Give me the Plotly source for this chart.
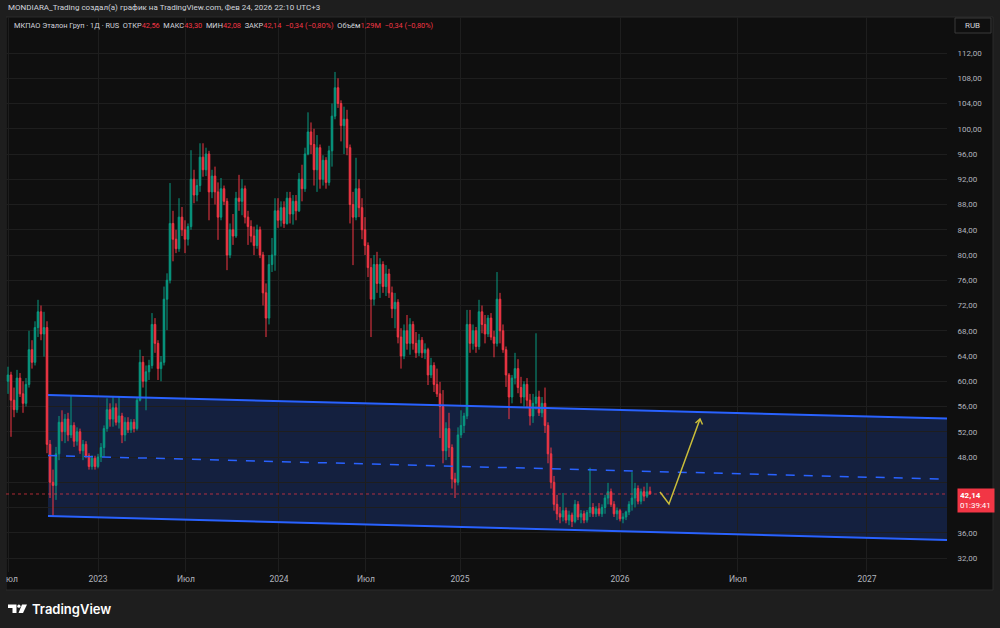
import plotly.graph_objects as go

# ---------------- data (bar-by-bar OHLC) ----------------
opens = [60, 61, 57, 55.5, 60.5, 58, 56.5, 59.5, 65, 63,
         68.5, 71, 67.5, 68.5, 50, 44, 43.5, 48.5, 53.5, 52,
         54, 51.5, 53, 50.5, 52, 49, 50, 48.2, 46.5, 47.8,
         46.5, 48, 49.5, 52.5, 55.5, 54, 55.8, 53.5, 54.5, 51.5,
         53.5, 52.3, 53.5, 52.5, 57, 63, 60, 61.5, 62.5, 69,
         66, 62, 63, 73, 76, 85, 82.5, 81, 86, 84,
         82.5, 84.5, 92, 89.5, 91, 95.5, 93.5, 96, 90, 92.5,
         90, 86, 90.5, 88.5, 80, 84, 83, 89, 88.5, 90.5,
         86, 84.5, 83, 81.5, 84, 80, 74, 70, 78.5, 80,
         87, 85.5, 87.5, 85, 89, 86.5, 88.5, 87, 92, 90.5,
         96, 99.5, 97.5, 93.5, 97, 92, 95, 91.5, 96.5, 102,
         106.5, 104, 100.5, 101.5, 97, 88, 86, 90.5, 87.5, 84,
         81.5, 78, 73, 78.5, 75.5, 78.5, 75, 77, 74, 71.5,
         72.5, 67, 64, 68, 66, 69, 66, 64.5, 66.5, 64.5,
         65, 61, 62.5, 59.5, 58, 56, 49, 52.5, 49.5, 44.5,
         44, 51.5, 53, 54.5, 69, 66, 68, 65.5, 71, 69,
         67.5, 70, 67, 66, 73, 68, 65, 61, 57.5, 60.5,
         62, 59, 57.5, 59.5, 57, 54.5, 56.5, 57.5, 55, 56.5,
         53, 48.5, 44, 40.5, 39, 38.5, 39.5, 38, 38.8, 37.8,
         40.5, 38.5, 39, 38, 39.2, 40, 39, 39.8, 39, 40,
         41.5, 42.5, 40.5, 39, 39.5, 38.2, 38.5, 39.3, 40.5, 41.5,
         43, 41, 42.5, 41.8, 42.56]
highs = [62.3, 61.5, 59, 61.8, 61.3, 60, 60.5, 68, 66.5, 69.5,
         72.9, 72, 71, 69.5, 50.7, 46, 49.6, 54.5, 55.4, 54.8,
         55, 57.8, 53.5, 52.7, 52.5, 50.7, 50.5, 48.6, 48.3, 48.2,
         48.5, 50.2, 53, 57.3, 56.5, 57.5, 56.5, 57.5, 55, 54.3,
         54.3, 54, 54, 57.5, 65, 64, 62.5, 63.4, 70.8, 70,
         66.5, 64, 75, 77.1, 91.4, 87, 84, 89, 87.6, 85.5,
         85, 96.6, 93.5, 92, 97.7, 97.7, 97, 96.5, 93.5, 94,
         91.5, 92.2, 91, 89, 85, 86.5, 90, 92.7, 92, 91,
         87, 85.5, 84.5, 84.8, 84.5, 80.5, 75.5, 80, 82.7, 89,
         89, 88.5, 88.5, 90, 90, 89.5, 89.5, 93, 94.3, 97,
         102.6, 101, 100, 99, 97.5, 95.8, 95.5, 97.3, 104, 109,
         108, 104.5, 103.5, 103, 97.5, 90, 95.4, 92, 89, 86,
         82, 79.5, 80, 80.5, 79.5, 79, 78.4, 77.8, 75, 74,
         73, 68.4, 69, 70.5, 70, 69.5, 67.8, 67.5, 67, 66,
         65.3, 63.7, 63, 62, 59.9, 58.6, 53.5, 55, 50, 45.5,
         52.7, 55.4, 55, 71.3, 71.3, 69, 68.6, 72.9, 72, 70.5,
         70.5, 70.8, 68, 77.3, 74, 69, 65.5, 61.3, 61, 64.5,
         63.5, 60.7, 60, 60.5, 58, 58, 67.6, 58.5, 57.5, 59,
         53.5, 49.5, 45, 42, 40.1, 42.3, 40, 39.5, 39.2, 41.2,
         41, 39.6, 39.5, 39.6, 46.3, 40.7, 40.2, 40.7, 40.5, 42,
         43.9, 43, 41, 40, 39.8, 39.1, 39.5, 41, 45.6, 43.9,
         43.5, 43, 43.3, 43.9, 43.30]
lows = [58, 51.2, 54.3, 55, 57.5, 55, 56, 59, 62, 62.5,
        67, 66.5, 63.9, 48.6, 41.5, 38.7, 41.2, 47.5, 50.5, 50.2,
        50.5, 51, 49.6, 49.8, 48.5, 47.5, 47.8, 46, 46, 46,
        46.2, 47.2, 48, 52, 52.8, 52.8, 53, 52.5, 50.2, 50.5,
        51.8, 51.8, 51.9, 52.2, 56.8, 59, 55.4, 60.2, 62, 64.5,
        60.2, 60, 62.5, 68.1, 75.5, 79, 80.3, 80.5, 83, 80.3,
        81.5, 84, 88.2, 88.5, 90, 92.4, 92.5, 85.5, 89, 88,
        82.4, 85.5, 87.9, 77.6, 79.5, 81.6, 82.7, 87, 86.3, 85,
        81.6, 82, 80, 81, 79.5, 72, 67, 69, 77.3, 77.5,
        84.3, 84.5, 84.3, 84.8, 85, 84.8, 85.5, 86.8, 88.5, 90,
        95.8, 96, 91, 90, 90.5, 91, 90.5, 91, 94, 101.5,
        103.3, 98, 96, 95.8, 85, 78.4, 85.5, 86, 82.5, 80,
        76.5, 67, 72, 74, 73.2, 74, 73.5, 73.2, 70, 68.4,
        66, 62, 63.5, 65, 64.2, 65, 63.7, 64, 63.7, 63.5,
        59.4, 60.5, 58.3, 57.5, 51, 47, 47.5, 48, 43, 41.5,
        43.5, 51, 51.8, 54, 64.5, 65, 64.5, 65, 67.6, 66,
        67, 66.5, 63.8, 65.5, 66, 64.5, 59.1, 54, 56.5, 59.5,
        58.1, 56.5, 56, 55.9, 53, 53.4, 55.5, 54.5, 54.3, 51.8,
        47, 43, 39.5, 38, 37.5, 37.8, 37.5, 37.2, 36.9, 37.5,
        38, 37.5, 37.5, 37.6, 38.5, 38.5, 38.5, 38.6, 38.5, 39,
        40.5, 40.1, 38.5, 38, 37.8, 37.5, 38, 38.8, 39.5, 40,
        40.5, 40.5, 41, 41.5, 42.08]
closes = [61, 57, 55.5, 60.5, 58, 56.5, 59.5, 65, 63, 68.5,
          71, 67.5, 68.5, 50, 44, 43.5, 48.5, 53.5, 52, 54,
          51.5, 53, 50.5, 52, 49, 50, 48.2, 46.5, 47.8, 46.5,
          48, 49.5, 52.5, 55.5, 54, 55.8, 53.5, 54.5, 51.5, 53.5,
          52.3, 53.5, 52.5, 57, 63, 60, 61.5, 62.5, 69, 66,
          62, 63, 73, 76, 85, 82.5, 81, 86, 84, 82.5,
          84.5, 92, 89.5, 91, 95.5, 93.5, 96, 90, 92.5, 90,
          86, 90.5, 88.5, 80, 84, 83, 89, 88.5, 90.5, 86,
          84.5, 83, 81.5, 84, 80, 74, 70, 78.5, 80, 87,
          85.5, 87.5, 85, 89, 86.5, 88.5, 87, 92, 90.5, 96,
          99.5, 97.5, 93.5, 97, 92, 95, 91.5, 96.5, 102, 106.5,
          104, 100.5, 101.5, 97, 88, 86, 90.5, 87.5, 84, 81.5,
          78, 73, 78.5, 75.5, 78.5, 75, 77, 74, 71.5, 72.5,
          67, 64, 68, 66, 69, 66, 64.5, 66.5, 64.5, 65,
          61, 62.5, 59.5, 58, 56, 49, 52.5, 49.5, 44.5, 44,
          51.5, 53, 54.5, 69, 66, 68, 65.5, 71, 69, 67.5,
          70, 67, 66, 73, 68, 65, 61, 57.5, 60.5, 62,
          59, 57.5, 59.5, 57, 54.5, 56.5, 57.5, 55, 56.5, 53,
          48.5, 44, 40.5, 39, 38.5, 39.5, 38, 38.8, 37.8, 40.5,
          38.5, 39, 38, 39.2, 40, 39, 39.8, 39, 40, 41.5,
          42.5, 40.5, 39, 39.5, 38.2, 38.5, 39.3, 40.5, 41.5, 43,
          41, 42.5, 41.8, 42.48, 42.14]
last_volume_m = 1.29

x_tick_labels = ["Июл", "2023", "Июл", "2024", "Июл", "2025", "2026", "Июл", "2027"]
price_ticks = list(range(32, 113, 4))

ticker_name = "МКПАО Эталон Груп · 1Д · RUS"
header_text = "MONDIARA_Trading создал(а) график на TradingView.com, Фев 24, 2026 22:10 UTC+3"
countdown = "01:39:41"

# ---------------- layout geometry ----------------
W, H = 1000, 628
ML, MR, MT, MB = 6, 53, 17, 56
PX0, PX1 = ML, W - MR
PY0, PY1 = MT, H - MB
BAR_PX, FIRST_PX = 3.0, 8.0
PX_PER_UNIT = 6.3125
Y_TOP = 112 + (53 - PY0) / PX_PER_UNIT
Y_BOT = 112 - (PY1 - 53) / PX_PER_UNIT
X_RANGE = [(PX0 - FIRST_PX) / BAR_PX, (PX1 - FIRST_PX) / BAR_PX]
tick_bar_pos = [0.3, 30, 59.33, 90.33, 119.33, 150.67, 204, 243.33, 286.33]

def px2x(px):
    return (px - FIRST_PX) / BAR_PX

def py2y(py):
    return Y_TOP - (py - PY0) / PX_PER_UNIT

def pxp(px):
    return (px - PX0) / (PX1 - PX0)

def pyp(py):
    return (PY1 - py) / (PY1 - PY0)

def ru(v):
    return f"{v:.2f}".replace(".", ",")

UP, DN = "#089981", "#f23645"
BLUE = "#2962ff"
GRID = "#1e1e1e"
AXTXT = "#b2b5be"
FONT = "Roboto"

# the price tag covers the 40,00 label in the original
price_tick_text = ["" if abs(v - closes[-1]) < 3 else ru(v) for v in price_ticks]

bars = list(range(len(closes)))
fig = go.Figure()
fig.add_trace(go.Candlestick(
    x=bars, open=opens, high=highs, low=lows, close=closes,
    increasing=dict(line=dict(color=UP, width=1), fillcolor=UP),
    decreasing=dict(line=dict(color=DN, width=1), fillcolor=DN),
    whiskerwidth=0, hoverinfo="skip", showlegend=False,
))

shapes = []
# chart panel
shapes.append(dict(type="rect", xref="paper", yref="paper", layer="below",
                   x0=pxp(6), x1=pxp(993), y0=pyp(590), y1=pyp(17),
                   fillcolor="#0f0f0f", line=dict(color="#2a2a2a", width=1)))
# parallel channel
cx0, cx1 = px2x(48), X_RANGE[1]
up0, up1 = py2y(395), py2y(418.5)
lo0, lo1 = py2y(516), py2y(540)
shapes.append(dict(type="path", xref="x", yref="y", layer="below",
                   path=f"M {cx0},{up0} L {cx1},{up1} L {cx1},{lo1} L {cx0},{lo0} Z",
                   fillcolor="rgba(41,98,255,0.2)", line=dict(width=0)))
shapes.append(dict(type="line", xref="x", yref="y", x0=cx0, y0=up0, x1=cx1, y1=up1,
                   line=dict(color=BLUE, width=2)))
shapes.append(dict(type="line", xref="x", yref="y", x0=cx0, y0=lo0, x1=cx1, y1=lo1,
                   line=dict(color=BLUE, width=2)))
shapes.append(dict(type="line", xref="x", yref="y", x0=cx0, y0=(up0 + lo0) / 2,
                   x1=cx1, y1=(up1 + lo1) / 2, line=dict(color=BLUE, width=1.5, dash="dash")))
# last price line
shapes.append(dict(type="line", xref="paper", yref="y", x0=0, x1=1, y0=closes[-1], y1=closes[-1],
                   line=dict(color="rgba(242,54,69,0.7)", width=1, dash="dot")))
# yellow arrow
ARW = "#c9bd3a"
a = [(660, 492), (669, 504), (700, 419)]
path = "M " + " L ".join(f"{px2x(p[0])},{py2y(p[1])}" for p in a)
shapes.append(dict(type="path", xref="x", yref="y", path=path, line=dict(color=ARW, width=1.5)))
head = [(695.5, 423), (700, 419), (702.5, 424.5)]
path = "M " + " L ".join(f"{px2x(p[0])},{py2y(p[1])}" for p in head)
shapes.append(dict(type="path", xref="x", yref="y", path=path, line=dict(color=ARW, width=1.5)))
# clip strip at far left
shapes.append(dict(type="rect", xref="paper", yref="paper", layer="above",
                   x0=pxp(0), x1=pxp(6), y0=pyp(628), y1=pyp(0),
                   fillcolor="#1e1e1e", line=dict(width=0)))
# RUB box
shapes.append(dict(type="rect", xref="paper", yref="paper",
                   x0=pxp(955), x1=pxp(991), y0=pyp(33), y1=pyp(18),
                   fillcolor="#0f0f0f", line=dict(color="#3a3a3a", width=1)))
# TradingView logo glyph
def ppath(pts):
    return "M " + " L ".join(f"{pxp(x)},{pyp(y)}" for x, y in pts) + " Z"
shapes.append(dict(type="path", xref="paper", yref="paper",
                   path=ppath([(8, 604.5), (16.5, 604.5), (16.5, 613), (12.5, 613), (12.5, 608), (8, 608)]),
                   fillcolor="white", line=dict(width=0)))
shapes.append(dict(type="circle", xref="paper", yref="paper",
                   x0=pxp(17.3), x1=pxp(20.5), y0=pyp(607.8), y1=pyp(604.6),
                   fillcolor="white", line=dict(width=0)))
shapes.append(dict(type="path", xref="paper", yref="paper",
                   path=ppath([(22, 604.5), (27, 604.5), (23, 613), (18.5, 613)]),
                   fillcolor="white", line=dict(width=0)))

ann = []
ann.append(dict(xref="paper", yref="paper", x=pxp(6), y=pyp(8), xanchor="left", yanchor="middle",
                text=header_text, showarrow=False, font=dict(family=FONT, size=8, color="#d1d4dc")))
chg = closes[-1] - closes[-2]
pct = chg / closes[-2] * 100
red = lambda s: f"<span style='color:{DN}'>{s}</span>"
chg_s = f"{ru(chg).replace('-', '−')} ({ru(pct).replace('-', '−')}%)"
legend = (f"{ticker_name}  ОТКР{red(ru(opens[-1]))}  МАКС{red(ru(highs[-1]))}  "
          f"МИН{red(ru(lows[-1]))}  ЗАКР{red(ru(closes[-1]))}  {red(chg_s)}  "
          f"Объём{red(ru(last_volume_m) + 'M')}  {red(chg_s)}")
ann.append(dict(xref="paper", yref="paper", x=pxp(12), y=pyp(25.5), xanchor="left", yanchor="middle",
                text=legend, showarrow=False, font=dict(family=FONT, size=7.4, color="#d1d4dc")))
ann.append(dict(xref="paper", yref="paper", x=pxp(973), y=pyp(26), xanchor="center", yanchor="middle",
                text="RUB", showarrow=False, font=dict(family=FONT, size=8, color="#d1d4dc")))
ann.append(dict(xref="paper", yref="y", x=pxp(957), y=closes[-1], xanchor="left", yanchor="top",
                yshift=6, text=f"<b>{ru(closes[-1])}</b><br>{countdown}", showarrow=False,
                align="left", bgcolor=DN, borderpad=2, width=32,
                font=dict(family=FONT, size=8, color="white")))
ann.append(dict(xref="paper", yref="paper", x=pxp(30), y=pyp(609), xanchor="left", yanchor="middle",
                text="TradingView", showarrow=False,
                font=dict(family="Inter", size=13, color="white", weight=600)))

fig.update_layout(
    width=W, height=H,
    margin=dict(l=ML, r=MR, t=MT, b=MB, autoexpand=False),
    paper_bgcolor="#1e1e1e", plot_bgcolor="#0f0f0f",
    separators=", ", boxgap=0.25,
    shapes=shapes, annotations=ann, showlegend=False,
    xaxis=dict(range=X_RANGE, tickmode="array", tickvals=tick_bar_pos, ticktext=x_tick_labels,
               showgrid=True, gridcolor=GRID, gridwidth=1, zeroline=False, showline=False,
               ticks="", automargin=False, ticklabeloverflow="allow",
               tickfont=dict(family=FONT, size=8.5, color=AXTXT),
               rangeslider=dict(visible=False), fixedrange=True),
    yaxis=dict(range=[Y_BOT, Y_TOP], side="right", tickmode="array", tickvals=price_ticks,
               ticktext=price_tick_text, showgrid=True, gridcolor=GRID, gridwidth=1,
               zeroline=False, showline=False, ticks="outside", ticklen=8, automargin=False,
               tickcolor="rgba(0,0,0,0)",
               tickfont=dict(family=FONT, size=8, color=AXTXT), fixedrange=True),
)
fig.write_html("out.html")
